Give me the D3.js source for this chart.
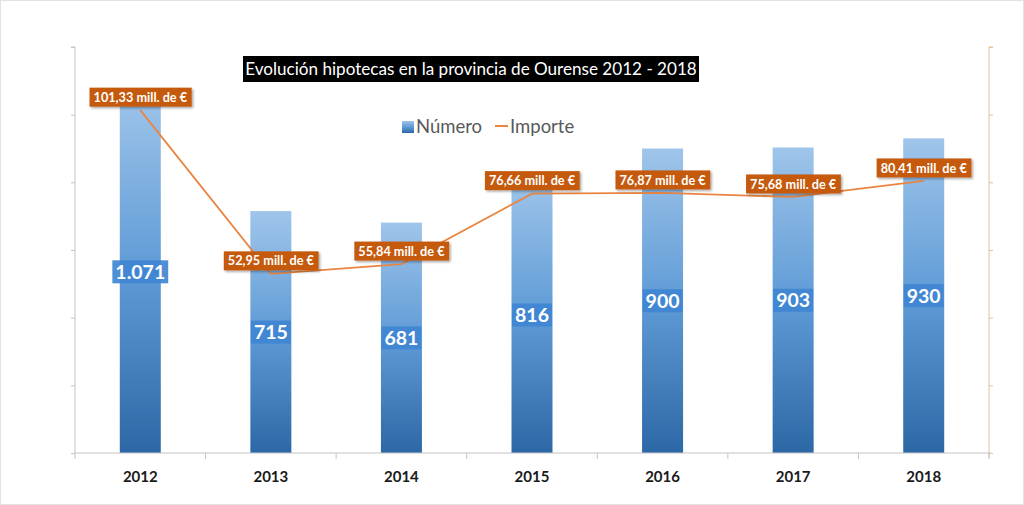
<!DOCTYPE html>
<html><head><meta charset="utf-8">
<script src="https://cdn.jsdelivr.net/npm/d3@7"></script>
<style>
html,body{margin:0;padding:0;background:#fff;}
svg{display:block;font-family:Lato,"Open Sans",sans-serif;}
</style></head>
<body>
<svg id="chart" width="1024" height="505"></svg>
<script>
const years = ["2012","2013","2014","2015","2016","2017","2018"];
const numero = [1071, 715, 681, 816, 900, 903, 930];
const numeroLabels = ["1.071","715","681","816","900","903","930"];
const importe = [101.33, 52.95, 55.84, 76.66, 76.87, 75.68, 80.41];
const importeLabels = ["101,33 mill. de €","52,95 mill. de €","55,84 mill. de €","76,66 mill. de €","76,87 mill. de €","75,68 mill. de €","80,41 mill. de €"];
const leftTicks = [0,200,400,600,800,1000,1200];
const rightTicks = [0,20,40,60,80,100,120];
const titleText = "Evolución hipotecas en la provincia de Ourense 2012 - 2018";
const legendItems = ["Número","Importe"];

const svg = d3.select("#chart");
const W = 1024, H = 505;
const m = {left:75, right:989, top:47, bottom:453};

svg.append("rect").attr("x",0.5).attr("y",0.5).attr("width",W-1).attr("height",H-1)
  .attr("fill","#fff").attr("stroke","#e3e3e3");

const defs = svg.append("defs");
const grad = defs.append("linearGradient").attr("id","barGrad").attr("x1",0).attr("y1",0).attr("x2",0).attr("y2",1);
grad.append("stop").attr("offset","0%").attr("stop-color","#9fc5ea");
grad.append("stop").attr("offset","50%").attr("stop-color","#5f9bd6");
grad.append("stop").attr("offset","100%").attr("stop-color","#2d68a6");
const sh = defs.append("filter").attr("id","shadow").attr("x","-10%").attr("y","-20%").attr("width","130%").attr("height","160%");
sh.append("feDropShadow").attr("dx",1.5).attr("dy",1.5).attr("stdDeviation",1.2).attr("flood-color","#000").attr("flood-opacity",0.35);

const x = d3.scaleBand().domain(years).range([m.left, m.right]).paddingInner(0.686).paddingOuter(0.343);
const xb = d3.scaleBand().domain(years).range([m.left, m.right]);
const yL = d3.scaleLinear().domain([0,1200]).range([m.bottom, m.top]);
const yR = d3.scaleLinear().domain([0,120]).range([m.bottom, m.top]);

// left axis
const gL = svg.append("g").attr("transform",`translate(${m.left},0)`)
  .call(d3.axisLeft(yL).tickValues(leftTicks).tickSize(4).tickFormat(""));
gL.selectAll("path,line").attr("stroke","#c4c4c4");
gL.select(".domain").attr("d",`M-4,${m.top}H0V${m.bottom}`);
// right axis
const gR = svg.append("g").attr("transform",`translate(${m.right},0)`)
  .call(d3.axisRight(yR).tickValues(rightTicks).tickSize(4).tickFormat(""));
gR.selectAll("path,line").attr("stroke","#e4c29e");
gR.select(".domain").attr("d",`M4,${m.top}H0V${m.bottom+5}`);

// bars
svg.append("g").selectAll("rect").data(numero).join("rect")
  .attr("x",(d,i)=>x(years[i])).attr("width",x.bandwidth())
  .attr("y",d=>yL(d)).attr("height",d=>yL(0)-yL(d))
  .attr("fill","url(#barGrad)");

// bottom axis
const gB = svg.append("g").attr("transform",`translate(0,${m.bottom})`)
  .call(d3.axisBottom(xb).tickSize(0).tickFormat(""));
gB.selectAll("path,line").attr("stroke","#c4c4c4");
gB.select(".domain").attr("d",`M${m.left},0H${m.right+2}`);
const bounds = years.map(y=>xb(y)).concat([m.right]);
gB.selectAll(".bt").data(bounds).join("line").attr("class","bt")
  .attr("x1",d=>d).attr("x2",d=>d).attr("y1",0).attr("y2",6).attr("stroke","#c4c4c4");
svg.append("g").selectAll("text").data(years).join("text")
  .attr("x",d=>xb(d)+xb.bandwidth()/2).attr("y",481.5)
  .attr("text-anchor","middle").attr("font-weight","bold").attr("font-size",15).attr("fill","#1a1a1a")
  .text(d=>d);

// bar labels
const bl = svg.append("g").selectAll("g").data(numero).join("g")
  .attr("transform",(d,i)=>`translate(${x(years[i])+x.bandwidth()/2},${(yL(d)+yL(0))/2})`);
bl.append("rect").attr("fill","#3f86d3").attr("fill-opacity",0.92);
bl.append("text").attr("text-anchor","middle").attr("dy","0.36em")
  .attr("font-weight","bold").attr("font-size",19.5).attr("fill","#fff")
  .text((d,i)=>numeroLabels[i]);
bl.each(function(){
  const g = d3.select(this), bb = g.select("text").node().getBBox();
  g.select("rect").attr("x",bb.x-3).attr("y",-11.5).attr("width",bb.width+6).attr("height",23);
});

// line
const line = d3.line().x((d,i)=>xb(years[i])+xb.bandwidth()/2).y(d=>yR(d));
svg.append("path").datum(importe).attr("d",line).attr("fill","none")
  .attr("stroke","#e98540").attr("stroke-width",1.8);

// line labels
const ll = svg.append("g").selectAll("g").data(importe).join("g")
  .attr("transform",(d,i)=>`translate(${xb(years[i])+xb.bandwidth()/2},${yR(d)-13})`);
ll.append("rect").attr("fill","#c55a11").attr("filter","url(#shadow)");
ll.append("text").attr("text-anchor","middle").attr("dy","0.36em")
  .attr("font-weight","bold").attr("font-size",12.7).attr("fill","#fff")
  .text((d,i)=>importeLabels[i]);
ll.each(function(){
  const g = d3.select(this), bb = g.select("text").node().getBBox();
  g.select("rect").attr("x",bb.x-4).attr("y",-9.5).attr("width",bb.width+8).attr("height",19);
});

// title
const tg = svg.append("g");
tg.append("rect").attr("x",243).attr("y",56).attr("width",456).attr("height",26).attr("fill","#000");
tg.append("text").attr("x",471).attr("y",75).attr("text-anchor","middle")
  .attr("font-size",17.1).attr("fill","#fff").text(titleText);

// legend
const lg = svg.append("g");
lg.append("rect").attr("x",402).attr("y",121).attr("width",12).attr("height",12).attr("fill","url(#barGrad)");
lg.append("text").attr("x",416).attr("y",133).attr("font-size",18.5).attr("fill","#595959").text(legendItems[0]);
lg.append("line").attr("x1",495).attr("x2",508).attr("y1",126).attr("y2",126).attr("stroke","#e98540").attr("stroke-width",2);
lg.append("text").attr("x",510).attr("y",133).attr("font-size",18.5).attr("fill","#595959").text(legendItems[1]);
</script>
</body></html>
